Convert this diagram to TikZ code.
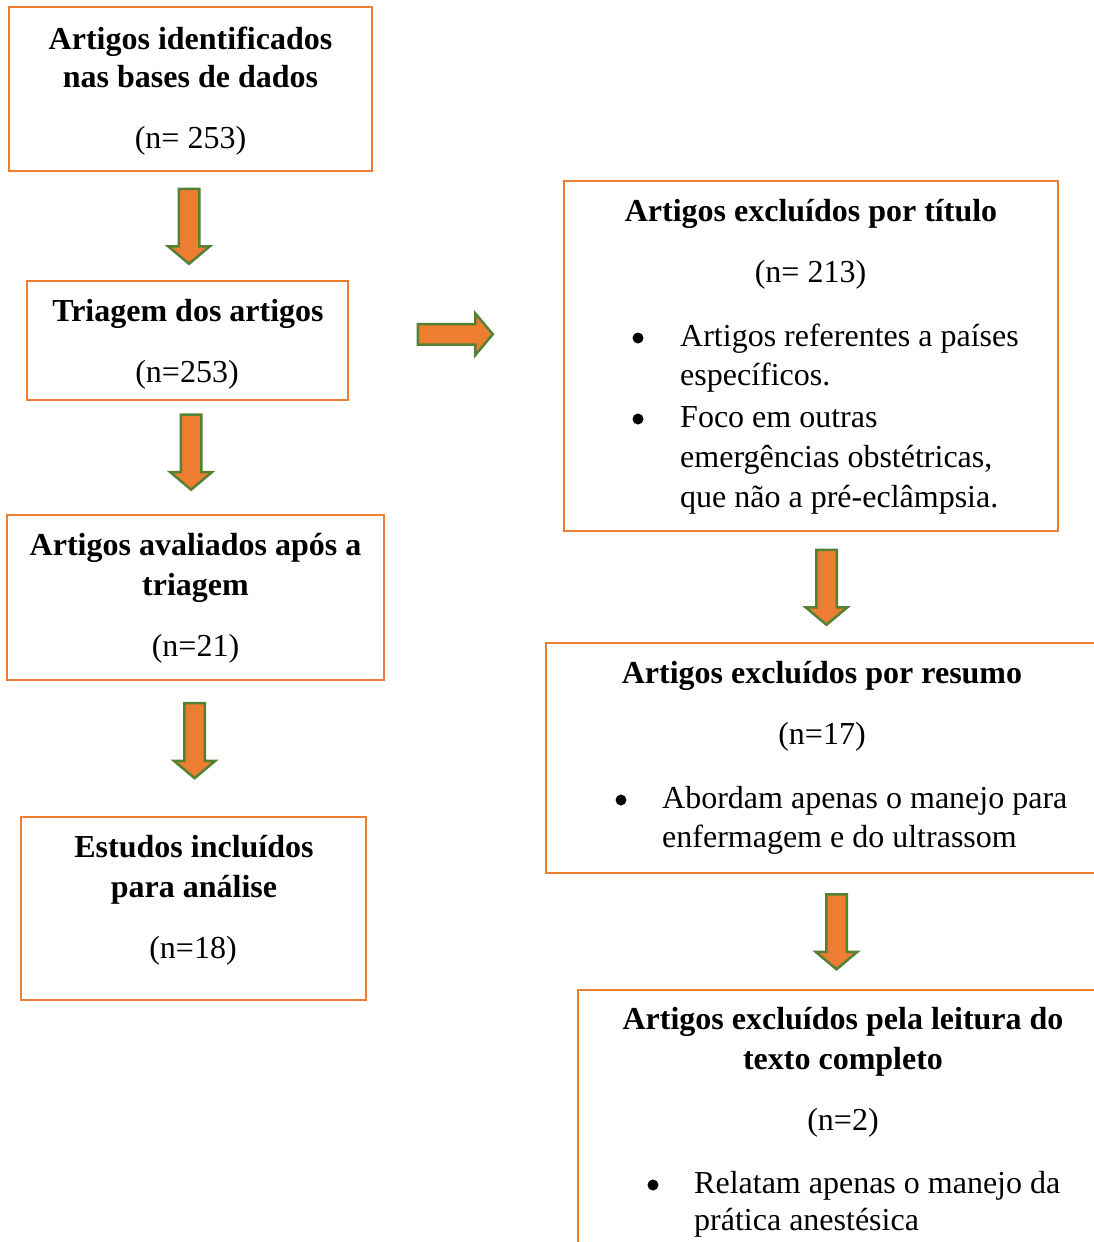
\documentclass[tikz,border=0pt]{standalone}
\usepackage{fontspec}
\setmainfont{Liberation Serif}
\usetikzlibrary{calc,shapes.arrows}
\definecolor{boxorange}{HTML}{ED7D31}
\definecolor{arrowgreen}{HTML}{548235}
\newcommand{\flowfont}{\fontsize{32}{40}\selectfont}

\tikzset{
  box/.style={draw=boxorange, line width=1.8pt, inner sep=0pt},
  ttl/.style={anchor=base, inner sep=0pt, font=\flowfont\bfseries},
  txt/.style={anchor=base, inner sep=0pt, font=\flowfont},
  itm/.style={anchor=base west, inner sep=0pt, font=\flowfont},
  dot/.style={circle, fill=black, inner sep=0pt, minimum size=11pt},
  blockarrow/.style={single arrow, draw=arrowgreen, fill=boxorange, line width=2.5pt,
    inner sep=9pt, minimum height=75pt, minimum width=39pt, single arrow head extend=10.5pt,
    single arrow tip angle=100},
  downarrow/.style={blockarrow, shape border rotate=270, yshift=4pt}
}

\begin{document}
\begin{tikzpicture}[x=1pt,y=-1pt]
  \path[use as bounding box, clip] (0,0) rectangle (1094,1242);

  % left column
  \node[box, minimum width=363pt, minimum height=164pt] (ident) at (190.5,89) {};
  \node[ttl] (ident1) at (190.5,49) {Artigos identificados};
  \node[ttl] (ident2) at (190.5,87) {nas bases de dados};
  \node[txt] (identn) at (190.5,148) {(n= 253)};

  \node[box, minimum width=321pt, minimum height=119pt] (triagem) at (187.5,340.5) {};
  \node[ttl] (triagem1) at (188,321) {Triagem dos artigos};
  \node[txt] (triagemn) at (187,382) {(n=253)};

  \node[box, minimum width=377pt, minimum height=165pt] (avaliados) at (195.5,597.5) {};
  \node[ttl] (avaliados1) at (195.5,555) {Artigos avaliados após a};
  \node[ttl] (avaliados2) at (195.5,595) {triagem};
  \node[txt] (avaliadosn) at (195.5,656) {(n=21)};

  \node[box, minimum width=345pt, minimum height=183pt] (incluidos) at (193.5,908.5) {};
  \node[ttl] (incluidos1) at (194,857) {Estudos incluídos};
  \node[ttl] (incluidos2) at (194,897) {para análise};
  \node[txt] (incluidosn) at (193,958) {(n=18)};

  % right column
  \node[box, minimum width=494pt, minimum height=350pt] (titulo) at (811,356) {};
  \node[ttl] (titulo1) at (811,221) {Artigos excluídos por título};
  \node[txt] (titulon) at (810.5,282) {(n= 213)};
  \node[dot] (titulob1) at (638,338) {};
  \node[itm] (titulo2) at (680,346) {Artigos referentes a países};
  \node[itm] (titulo3) at (680,385) {específicos.};
  \node[dot] (titulob2) at (638,419) {};
  \node[itm] (titulo4) at (680,427) {Foco em outras};
  \node[itm] (titulo5) at (680,467) {emergências obstétricas,};
  \node[itm] (titulo6) at (680,507) {que não a pré-eclâmpsia.};

  \node[box, minimum width=552pt, minimum height=230pt] (resumo) at (822,758) {};
  \node[ttl] (resumo1) at (822,683) {Artigos excluídos por resumo};
  \node[txt] (resumon) at (822,744) {(n=17)};
  \node[dot] (resumob) at (621,800) {};
  \node[itm] (resumo2) at (662,808) {Abordam apenas o manejo para};
  \node[itm] (resumo3) at (662,847) {enfermagem e do ultrassom};

  \node[box, minimum width=530pt, minimum height=280pt] (leitura) at (843,1130) {};
  \node[ttl] (leitura1) at (843,1029) {Artigos excluídos pela leitura do};
  \node[ttl] (leitura2) at (843,1069) {texto completo};
  \node[txt] (leituran) at (843,1130) {(n=2)};
  \node[dot] (leiturab) at (653,1185) {};
  \node[itm] (leitura3) at (694,1193) {Relatam apenas o manejo da};
  \node[itm] (leitura4) at (694,1230) {prática anestésica};

  % arrows
  \node[downarrow] (a1) at ($(ident.south)!.5!(triagem.north)$) {};
  \node[downarrow] (a2) at ($(triagem.south)!.45!(avaliados.north)$) {};
  \node[downarrow] (a3) at ($(avaliados.south)!.44!(incluidos.north)$) {};
  \node[blockarrow, xshift=-5pt, yshift=14pt] (a4) at ($(triagem.east)!.5!(titulo.west)$) {};
  \node[downarrow, xshift=10pt] (a5) at ($(titulo.south)!.5!(resumo.north)$) {};
  \node[downarrow, xshift=4pt] (a6) at ($(resumo.south)!.5!(leitura.north)$) {};
\end{tikzpicture}
\end{document}
